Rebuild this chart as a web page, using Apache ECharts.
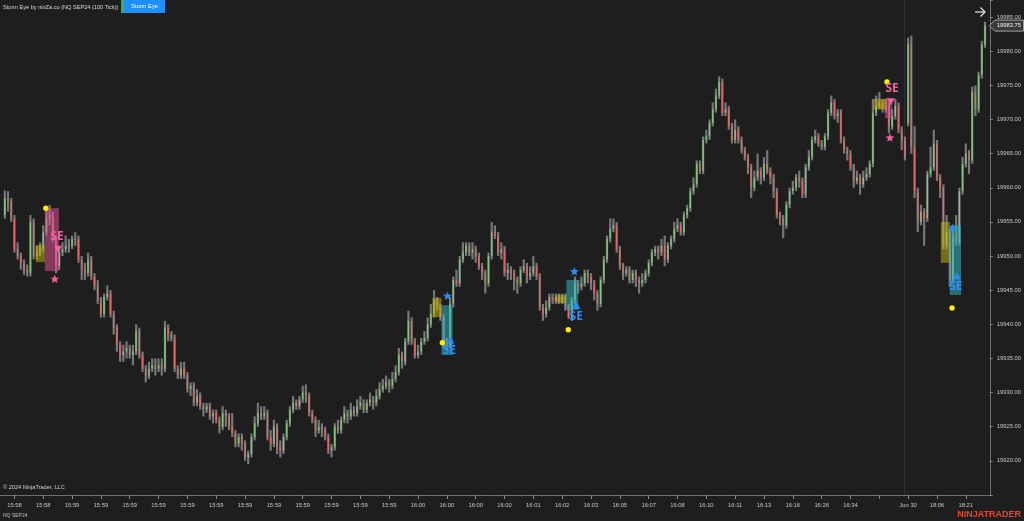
<!DOCTYPE html>
<html><head><meta charset="utf-8">
<script src="https://cdn.jsdelivr.net/npm/echarts@6/dist/echarts.min.js"></script>
<style>html,body{margin:0;padding:0;background:#1e1e1e;}#c{width:1024px;height:521px;}</style>
</head><body><div id="c"></div>
<script>
// ---- data (100-tick bars, index 0 is an empty slot) ----
const opens = [null,
19956,19958.5,19958,19955.5,19951,19950,19949,19948,19947.5,19955,
19950,19950.5,19951,19953.5,19955.5,19956,19952.5,19948.5,19950.5,19951,
19951.5,19951.5,19952.5,19952.5,19949.5,19948,19947.5,19949.5,19947,19945.5,
19943.5,19941.5,19944,19944.5,19941.5,19939.5,19937,19935.5,19936,19936.5,
19935.5,19936,19939,19935.5,19933.5,19932.5,19933.5,19934,19933.5,19934,
19933.5,19939.5,19938.5,19938,19933.5,19932.5,19933.5,19932.5,19930.5,19931,
19928.5,19929.5,19928,19927.5,19928,19926.5,19927,19926,19925,19927,
19926.5,19925,19924,19922.5,19923.5,19922.5,19920.5,19921,19923.5,19925.5,
19927,19926.5,19927,19923.5,19922.5,19925,19922,19921.5,19923.5,19925.5,
19927.5,19928.5,19928,19929,19930,19929.5,19927,19926,19924.5,19925,
19924.5,19923.5,19921.5,19922,19925,19924.5,19926,19927,19926.5,19927.5,
19927,19928,19928.5,19927.5,19928.5,19929,19928.5,19929.5,19930.5,19931,
19931.5,19931,19932,19933,19935.5,19934.5,19937.5,19940.5,19937.5,19935.5,
19936,19937.5,19938,19940,19941.5,19943.5,19942.5,19941,19937.5,19937,
19943,19946.5,19946,19949.5,19950.5,19951.5,19950.5,19951,19950,19948.5,
19947.5,19946,19950,19953.5,19953,19950.5,19951,19947.5,19948,19947.5,
19946.5,19946,19948,19948.5,19947,19947.5,19948.5,19947,19942.5,19941.5,
19942.5,19944,19943.5,19944,19943.5,19944,19942.5,19941,19943.5,19946,
19945.5,19946,19947.5,19947,19946,19944.5,19943,19946.5,19949.5,19952.5,
19954,19954.5,19951,19948.5,19947.5,19948,19946.5,19947.5,19946.5,19946,
19946.5,19947.5,19949,19950.5,19951,19950.5,19951.5,19949.5,19951.5,19952.5,
19954,19954.5,19953.5,19956,19957,19959.5,19960.5,19963.5,19962.5,19967,
19967.5,19969.5,19971.5,19973.5,19975.5,19971,19971.5,19969,19967,19968.5,
19967,19965.5,19964.5,19963,19960,19961.5,19962.5,19961.5,19963.5,19962.5,
19961.5,19959.5,19956,19955.5,19954.5,19957.5,19959.5,19960,19961.5,19961,
19959,19963,19964.5,19967,19967.5,19966.5,19966,19967.5,19971,19972.5,
19970.5,19971,19967,19965.5,19965,19963,19961,19961.5,19960.5,19961.5,
19962,19963.5,19971,19972,19972.5,19971.5,19972,19969,19970.5,19972,
19968.5,19967,19969.5,19981,19966,19959.5,19955,19956.5,19955.5,19962,
19963,19966.5,19961.5,19960,19951.5,19953.5,19946.5,19953,19952,19959.5,
19963.5,19965,19964,19974,19971.5,19976.5,19981];
const closes = [null,
19958.5,19958,19955.5,19951,19950,19949,19948,19947.5,19955,19950,
19950.5,19951,19953.5,19955.5,19956,19952.5,19948.5,19950.5,19951,19951.5,
19951.5,19952.5,19952.5,19949.5,19948,19947.5,19949.5,19947,19945.5,19943.5,
19941.5,19944,19944.5,19941.5,19939.5,19937,19935.5,19936,19936.5,19935.5,
19936,19939,19935.5,19933.5,19932.5,19933.5,19934,19933.5,19934,19933.5,
19939.5,19938.5,19938,19933.5,19932.5,19933.5,19932.5,19930.5,19931,19928.5,
19929.5,19928,19927.5,19928,19926.5,19927,19926,19925,19927,19926.5,
19925,19924,19922.5,19923.5,19922.5,19920.5,19921,19923.5,19925.5,19927,
19926.5,19927,19923.5,19922.5,19925,19922,19921.5,19923.5,19925.5,19927.5,
19928.5,19928,19929,19930,19929.5,19927,19926,19924.5,19925,19924.5,
19923.5,19921.5,19922,19925,19924.5,19926,19927,19926.5,19927.5,19927,
19928,19928.5,19927.5,19928.5,19929,19928.5,19929.5,19930.5,19931,19931.5,
19931,19932,19933,19935.5,19934.5,19937.5,19940.5,19937.5,19935.5,19936,
19937.5,19938,19940,19941.5,19943.5,19942.5,19941,19937.5,19937,19943,
19946.5,19946,19949.5,19950.5,19951.5,19950.5,19951,19950,19948.5,19947.5,
19946,19950,19953.5,19953,19950.5,19951,19947.5,19948,19947.5,19946.5,
19946,19948,19948.5,19947,19947.5,19948.5,19947,19942.5,19941.5,19942.5,
19944,19943.5,19944,19943.5,19944,19942.5,19941,19943.5,19946,19945.5,
19946,19947.5,19947,19946,19944.5,19943,19946.5,19949.5,19952.5,19954,
19954.5,19951,19948.5,19947.5,19948,19946.5,19947.5,19946.5,19946,19946.5,
19947.5,19949,19950.5,19951,19950.5,19951.5,19949.5,19951.5,19952.5,19954,
19954.5,19953.5,19956,19957,19959.5,19960.5,19963.5,19962.5,19967,19967.5,
19969.5,19971.5,19973.5,19975.5,19971,19971.5,19969,19967,19968.5,19967,
19965.5,19964.5,19963,19960,19961.5,19962.5,19961.5,19963.5,19962.5,19961.5,
19959.5,19956,19955.5,19954.5,19957.5,19959.5,19960,19961.5,19961,19959,
19963,19964.5,19967,19967.5,19966.5,19966,19967.5,19971,19972.5,19970.5,
19971,19967,19965.5,19965,19963,19961,19961.5,19960.5,19961.5,19962,
19963.5,19971,19972,19972.5,19971.5,19972,19969,19970.5,19972,19968.5,
19967,19964.5,19981,19966,19959.5,19955,19956.5,19955.5,19962,19963,
19966.5,19961.5,19960,19951.5,19953.5,19946.5,19953,19952,19959.5,19963.5,
19965,19964,19974,19971.5,19976.5,19981,19983.75];
const highs = [null,
19959.6,19959.5,19958.5,19956,19952,19950.5,19949.5,19948.75,19956,19955.5,
19951.5,19952,19954.5,19956.7,19957.5,19956.5,19953,19951.5,19952,19953,
19952.5,19953,19953.5,19953,19950,19949,19950.5,19950,19947.5,19946.5,
19944,19944.5,19945.7,19945,19942,19940,19937.5,19937,19937.5,19937,
19937,19940,19939.5,19936,19934,19934.5,19935,19935,19935,19935,
19940.5,19940,19939,19938.5,19934,19934.5,19934.5,19933,19931.5,19931.5,
19930.5,19930,19928.5,19928.5,19928.5,19927.5,19927.5,19926.5,19928,19927.5,
19927,19927,19924.5,19924,19924,19923,19921.5,19924,19926.5,19928.5,
19928,19928,19927.5,19924.5,19926,19925.5,19923,19924,19926,19928,
19929.5,19929,19929.5,19931,19931.2,19930,19927.5,19926.5,19926,19925.5,
19925,19924,19922.5,19925.5,19926,19926.5,19928,19927.5,19928.5,19928,
19929,19929.5,19929,19929,19930,19929.5,19930.5,19931.5,19932,19932.5,
19932,19933,19934,19936.5,19936,19938,19942,19941,19938,19937,
19938,19939,19941,19943,19945,19944,19943,19941.5,19938,19944,
19947,19948,19950,19952,19952,19952,19952,19951.5,19950.5,19949,
19948,19950.5,19955,19954.5,19953.5,19952,19951.5,19949,19948.5,19948,
19947,19948.5,19949.5,19949,19948.5,19950,19949,19947.5,19943,19943.5,
19944.5,19944.5,19944.5,19944.5,19944.5,19944.5,19943,19944,19947,19946.5,
19947,19948,19948,19947.5,19946.5,19945,19947,19950,19953,19955.5,
19955.5,19955,19951.5,19949,19948.5,19948.5,19948,19948,19947,19947.5,
19948,19949.5,19951,19951.5,19951.5,19952.5,19953,19952,19953,19955,
19955.5,19955,19956.5,19957.5,19960,19961.5,19964,19964,19967.5,19968.5,
19970,19972.5,19974.5,19976.3,19976,19972.5,19972,19969.5,19970,19969,
19967.5,19966,19965,19963.5,19962.5,19965,19963,19964.5,19965.5,19963,
19962,19960,19956.5,19956,19958,19960,19961,19962,19962.5,19961.5,
19963.5,19965.5,19967.5,19968.5,19968,19967,19968,19971.5,19973.5,19973,
19971.5,19971.5,19967.5,19966,19965.5,19963.5,19962.5,19962,19962.5,19963,
19964,19973,19973.5,19974,19973,19973,19972.5,19971.5,19973,19972.5,
19969,19967.5,19982,19982.3,19969,19960,19957.5,19957,19962.5,19966,
19968.5,19967,19962,19960.5,19956,19954,19954.5,19956,19960,19964.5,
19966.5,19965.5,19974.8,19975,19977,19981.5,19984.3];
const lows = [null,
19955.5,19956.5,19955,19950.5,19949.5,19948,19947.25,19947,19947,19949.5,
19949.5,19950,19950.5,19953,19954.5,19952,19947.5,19948,19950,19950.5,
19950.5,19951,19951.5,19949,19946.5,19946.5,19947,19946.5,19945,19943,
19941,19941,19943.5,19941,19938.5,19936,19934.5,19934.5,19935,19935,
19934,19935.5,19935,19933,19931.5,19932,19933,19932.5,19933,19932.5,
19933,19937.5,19937.5,19933,19932,19932,19932,19930,19929.5,19928,
19928,19927.5,19926.5,19927,19926,19925.5,19925.5,19924,19924.5,19925,
19924.5,19923.5,19922,19922,19921.5,19920,19919.5,19920.5,19923,19925,
19926,19926,19923,19921.5,19922,19921,19920.5,19921,19923,19925,
19927,19927.5,19927.5,19928.5,19928.5,19926.5,19925.5,19923.5,19924,19923.5,
19923,19921,19920.5,19921.5,19924,19924,19925.5,19925.5,19926,19926.5,
19926.5,19927.5,19927,19927,19928,19927.5,19928,19929,19930,19930.5,
19930,19930.5,19931.5,19932.5,19933.5,19934,19937,19937,19935,19935,
19935.5,19937,19937.5,19939.5,19941,19942,19940.5,19936.5,19936.3,19936.5,
19942.5,19945.5,19945.5,19949,19950,19950,19949.5,19949,19948,19946.5,
19944.5,19945.5,19949.5,19952.5,19950,19949.5,19947,19946.5,19946.5,19945,
19944.5,19945.5,19947.5,19946,19946.5,19947,19946.5,19942,19940.5,19941,
19942,19943,19943,19943,19943,19942,19940.8,19940.5,19943,19944.5,
19945,19945.5,19946,19945,19943.5,19942,19942.5,19946,19949,19952,
19953.5,19950.5,19948,19946.5,19947,19946,19946,19945.5,19944.5,19945.5,
19946,19947,19948.5,19950,19949.5,19950,19948.5,19949,19951,19952,
19953.5,19953,19953,19955.5,19956.5,19959,19960,19962,19962,19966.5,
19967,19969,19971,19973,19970.5,19970.5,19968.5,19966.5,19966.5,19966.5,
19965,19964,19962,19958.5,19959.5,19961,19960.5,19961,19962,19960.5,
19958.5,19955.5,19954.5,19952.6,19954,19957,19959,19959.5,19960,19958.5,
19958.5,19962.5,19964,19966.5,19966,19965.5,19965.5,19967,19970.5,19970,
19969.5,19966.5,19965,19964,19962.5,19960,19960.5,19959,19960,19961,
19961.5,19963,19970.5,19971.5,19971,19971,19968,19968.5,19970,19968,
19965.5,19964,19969,19965,19958.5,19953.5,19954.5,19951.5,19955,19961.5,
19962.5,19961,19958.5,19951,19951,19945.5,19946,19951.5,19951.5,19959,
19963,19962,19963.5,19970.5,19971,19976,19980.5];
const barCount = 309;
const tickLabels = ['15:58','15:58','15:59','15:59','15:59','15:59','15:59','15:59','15:59','15:59',
  '15:59','15:59','15:59','15:59','16:00','16:00','16:00','16:00','16:01','16:02','16:03','16:05',
  '16:07','16:08','16:10','16:11','16:13','16:16','16:26','16:34','','Jun 30','18:06','18:21'];
// Storm Eye signals (x in bar units, y in price)
const zoneStart = [10.7, 134.5, 173.2, 272.3, 293.2];
const zoneEnd = [13.5, 137.3, 176.3, 276.4, 296.0];
const zoneTop = [19951.6, 19943.85, 19944.3, 19973.0, 19955.0];
const zoneBottom = [19949.1, 19941.05, 19943.1, 19971.5, 19949.0];
const sigStart = [13.5, 137.3, 176.3, 275.8, 296.0];
const sigEnd = [17.9, 140.8, 180.0, 278.0, 299.5];
const sigTop = [19957.0, 19942.8, 19946.5, 19973.1, 19954.5];
const sigBottom = [19947.8, 19935.5, 19942.1, 19970.2, 19944.3];
const sigSide = ['short','long','long','short','long'];
const dotX = [13.8, 137.6, 176.9, 276.4, 296.7];
const dotY = [19957.0, 19937.3, 19939.2, 19975.5, 19942.4];
const starX = [16.6, 139.2, 178.8, 277.3, 297.0];
const starY = [19946.6, 19944.1, 19947.7, 19967.3, 19954.1];
const triX = [17.6, 140.1, 179.4, 277.6, 298.2];
const triY = [19951.0, 19937.7, 19942.8, 19972.6, 19947.1];
const seX = [17.3, 139.8, 179.4, 278.0, 297.9];
const seY = [19952.8, 19936.1, 19941.1, 19974.5, 19945.5];
const sessionBreak = 281.7;
const lastIndex = 307;

// ---- chart ----
const GREEN = '#80c880', RED = '#e26868', WICK = 'rgba(135,135,135,0.85)';
const PINK = '#f2609f', BLUE = '#2b8cff';
const FONT = 'Liberation Sans, Arial, sans-serif';
const chart = echarts.init(document.getElementById('c'), null, {renderer: 'canvas'});
const cats = Array.from({length: barCount}, (_, i) => String(i));
const showIdx = (i) => i >= 4 && (i - 4) % 9 === 0;

function px(api, xv, yv) {
  const f = Math.floor(xv);
  const a = api.coord([f, yv]);
  const b = api.coord([f + 1, yv]);
  return [a[0] + (xv - f) * (b[0] - a[0]), a[1]];
}
function starPts(cx, cy, R, r) {
  const pts = [];
  for (let k = 0; k < 10; k++) {
    const ang = -Math.PI / 2 + k * Math.PI / 5;
    const rr = k % 2 === 0 ? R : r;
    pts.push([cx + rr * Math.cos(ang), cy + rr * Math.sin(ang)]);
  }
  return pts;
}

const candleData = [];
for (let i = 0; i < closes.length; i++) {
  if (closes[i] != null) candleData.push([i, opens[i], closes[i], lows[i], highs[i]]);
}

chart.setOption({
  animation: false,
  backgroundColor: '#1e1e1e',
  grid: {left: 0, right: 33, top: 0, bottom: 26, containLabel: false},
  xAxis: {
    type: 'category', data: cats, boundaryGap: true,
    axisLine: {show: true, lineStyle: {color: '#707070', width: 1}},
    axisTick: {show: true, alignWithLabel: true, interval: showIdx, length: 4, lineStyle: {color: '#8a8a8a'}},
    axisLabel: {interval: showIdx, color: '#c8c8c8', fontSize: 5.8, fontFamily: FONT, margin: 7,
      formatter: (v, idx) => { const k = (idx - 4) / 9; return tickLabels[k] != null ? tickLabels[k] : ''; }},
    splitLine: {show: false}
  },
  yAxis: {
    type: 'value', position: 'right', min: 19915, max: 19987.5, interval: 5,
    axisLine: {show: true, lineStyle: {color: '#707070'}},
    axisTick: {show: true, length: 3, lineStyle: {color: '#8a8a8a'}},
    axisLabel: {color: '#c8c8c8', fontSize: 5.8, fontFamily: FONT, margin: 7,
      formatter: v => (v > 19915 && v < 19987 ? v.toFixed(2) : '')},
    splitLine: {show: false}
  },
  graphic: [
    {type: 'text', left: 3, top: 4, style: {text: 'Storm Eye by ninZa.co (NQ SEP24 (100 Tick))', fill: '#dcdcdc', fontSize: 5.6, fontFamily: FONT}},
    {type: 'rect', shape: {x: 121, y: 0, width: 3, height: 13}, style: {fill: '#3cb043'}},
    {type: 'rect', shape: {x: 124, y: 0, width: 41, height: 13}, style: {fill: '#1e8fff'}},
    {type: 'text', x: 144.5, y: 6.5, style: {text: 'Storm Eye', fill: '#ffffff', fontSize: 5.8, fontFamily: FONT, align: 'center', verticalAlign: 'middle'}},
    {type: 'polyline', shape: {points: [[975, 12], [985, 12]]}, style: {stroke: '#e8e8e8', lineWidth: 1.2}},
    {type: 'polyline', shape: {points: [[980.5, 7.5], [985, 12], [980.5, 16.5]]}, style: {stroke: '#e8e8e8', lineWidth: 1.2, fill: null}},
    {type: 'text', x: 3, y: 487, style: {text: '© 2024 NinjaTrader, LLC', fill: '#d0d0d0', fontSize: 5.6, fontFamily: FONT, verticalAlign: 'middle'}},
    {type: 'text', x: 3, y: 516, style: {text: 'NQ SEP24', fill: '#c0c0c0', fontSize: 5, fontFamily: FONT, verticalAlign: 'middle'}},
    {type: 'text', x: 1021, y: 515, style: {text: 'NINJATRADER', fill: '#e8472b', fontSize: 9, fontWeight: 'bold', fontFamily: FONT, align: 'right', verticalAlign: 'middle'}}
  ],
  series: [
    {
      type: 'custom', name: 'session', z: 1,
      data: [[0]],
      renderItem: (params, api) => {
        const p = px(api, sessionBreak, 19950);
        const cs = params.coordSys;
        return {type: 'line', shape: {x1: Math.round(p[0]) + 0.5, y1: cs.y, x2: Math.round(p[0]) + 0.5, y2: cs.y + cs.height}, style: {stroke: '#303030', lineWidth: 1}};
      }
    },
    {
      type: 'custom', name: 'candles', z: 3,
      data: candleData,
      encode: {x: 0, y: [1, 2, 3, 4]},
      renderItem: (params, api) => {
        const i = api.value(0), o = api.value(1), c = api.value(2), l = api.value(3), h = api.value(4);
        const pH = api.coord([i, h]), pL = api.coord([i, l]), pO = api.coord([i, o]), pC = api.coord([i, c]);
        const x = pH[0];
        const col = c > o ? GREEN : (c < o ? RED : '#9a9a9a');
        return {type: 'group', children: [
          {type: 'rect', shape: {x: x - 1.1, y: pH[1], width: 2.2, height: Math.max(1, pL[1] - pH[1])}, style: {fill: WICK}},
          {type: 'rect', shape: {x: x - 0.7, y: Math.min(pO[1], pC[1]), width: 1.4, height: Math.max(1, Math.abs(pO[1] - pC[1]))}, style: {fill: col}}
        ]};
      }
    },
    {
      type: 'custom', name: 'storm', z: 5,
      data: sigSide.map((s, k) => [k]),
      renderItem: (params, api) => {
        const k = params.dataIndex;
        const isShort = sigSide[k] === 'short';
        const mc = isShort ? PINK : BLUE;
        const z0 = px(api, zoneStart[k], zoneTop[k]), z1 = px(api, zoneEnd[k], zoneBottom[k]);
        const s0 = px(api, sigStart[k], sigTop[k]), s1 = px(api, sigEnd[k], sigBottom[k]);
        const d = px(api, dotX[k], dotY[k]);
        const st = px(api, starX[k], starY[k]);
        const tr = px(api, triX[k], triY[k]);
        const se = px(api, seX[k], seY[k]);
        const tri = isShort
          ? [[tr[0] - 4, tr[1] - 3.5], [tr[0] + 4, tr[1] - 3.5], [tr[0], tr[1] + 3.5]]
          : [[tr[0] - 4, tr[1] + 3.5], [tr[0] + 4, tr[1] + 3.5], [tr[0], tr[1] - 3.5]];
        return {type: 'group', children: [
          {type: 'rect', shape: {x: z0[0], y: z0[1], width: z1[0] - z0[0], height: z1[1] - z0[1]}, style: {fill: 'rgba(190,175,15,0.55)'}},
          {type: 'rect', shape: {x: s0[0], y: s0[1], width: s1[0] - s0[0], height: s1[1] - s0[1]},
            style: {fill: isShort ? 'rgba(220,80,150,0.55)' : 'rgba(50,180,190,0.55)'}},
          {type: 'circle', shape: {cx: d[0], cy: d[1], r: 2.7}, style: {fill: '#ffef00'}},
          {type: 'polygon', shape: {points: starPts(st[0], st[1], 4.8, 2.0)}, style: {fill: mc}},
          {type: 'polygon', shape: {points: tri}, style: {fill: mc}},
          {type: 'text', x: se[0], y: se[1], z2: 10, style: {text: 'SE', fill: mc, fontSize: 12, fontWeight: 'bold', fontFamily: 'Open Sans, Noto Sans, sans-serif', align: 'center', verticalAlign: 'middle'}}
        ]};
      }
    },
    {
      type: 'custom', name: 'lastPrice', z: 6,
      data: [[lastIndex, closes[lastIndex]]],
      encode: {x: 0, y: 1},
      renderItem: (params, api) => {
        const y = api.coord([api.value(0), api.value(1)])[1];
        const gx = params.coordSys.x + params.coordSys.width;
        return {type: 'group', children: [
          {type: 'polygon', shape: {points: [[gx - 0.5, y], [gx + 5, y - 5.5], [1023.5, y - 5.5], [1023.5, y + 5.5], [gx + 5, y + 5.5]]},
            style: {fill: '#3a3a3a', stroke: '#a0a0a0', lineWidth: 1}},
          {type: 'text', x: gx + 7, y: y, style: {text: closes[lastIndex].toFixed(2), fill: '#f4f4f4', fontSize: 5.8, fontFamily: FONT, verticalAlign: 'middle'}}
        ]};
      }
    }
  ]
});
</script>
</body></html>
